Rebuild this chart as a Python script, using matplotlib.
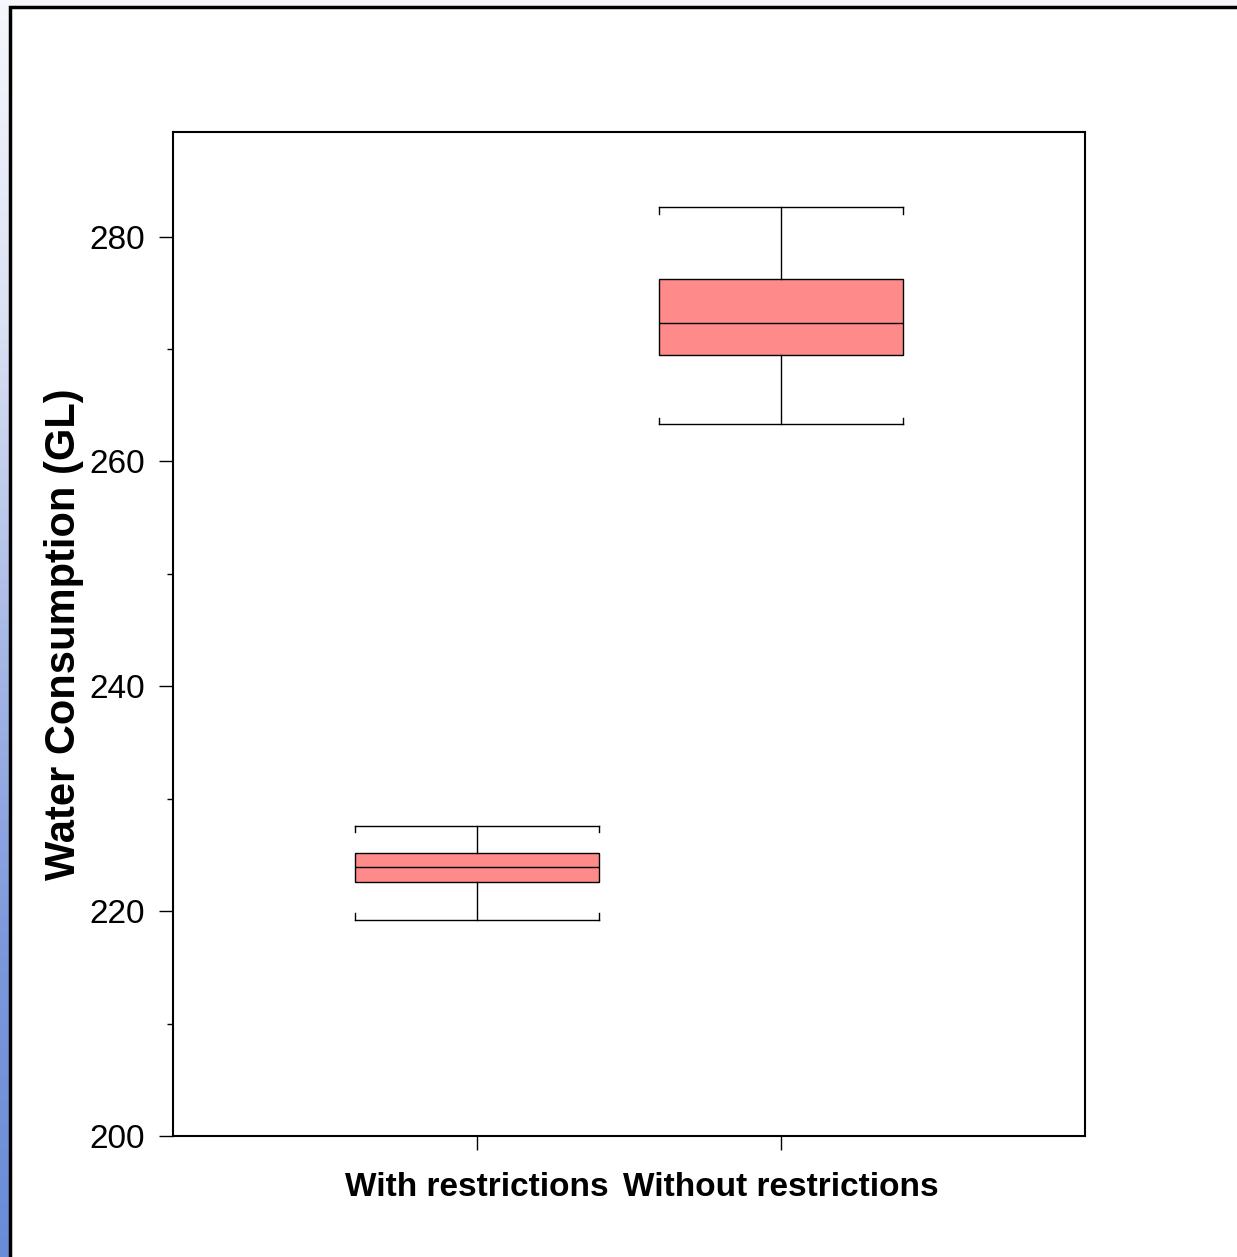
import matplotlib
matplotlib.use("Agg")
import matplotlib.pyplot as plt
import numpy as np
from matplotlib.colors import LinearSegmentedColormap
from matplotlib.patches import Rectangle

# Data
categories = ["With restrictions", "Without restrictions"]
whisker_low = [219.2, 263.3]
q1 = [222.6, 269.5]
median = [223.9, 272.3]
q3 = [225.2, 276.2]
whisker_high = [227.6, 282.6]
y_ticks = [200, 220, 240, 260, 280]
y_minor = [210, 230, 250, 270]

plt.rcParams['font.family'] = ['Liberation Sans', 'DejaVu Sans']

fig = plt.figure(figsize=(12.37, 12.57), dpi=100)

# slide-like background gradient
bg = fig.add_axes([0, 0, 1, 1], zorder=-10)
cmap = LinearSegmentedColormap.from_list(
    "bg", ["#F6F7FC", "#DCE2F4", "#A9BAE6", "#7D98DC", "#6A8CD8"])
grad = np.linspace(0, 1, 256).reshape(-1, 1)
bg.imshow(grad, aspect="auto", cmap=cmap, extent=[0, 1, 0, 1], origin="upper")
bg.set_xlim(0, 1); bg.set_ylim(0, 1)
bg.axis("off")
W, H = 1237, 1257
bg.add_patch(Rectangle((9.5 / W, -0.1), 1.2, 1 - 6.5 / H + 0.1,
                       facecolor="white", edgecolor="black", linewidth=2.5,
                       transform=bg.transAxes))

ax = fig.add_axes([173 / W, 1 - 1136 / H, (1085 - 173) / W, (1136 - 132) / H])
ax.set_facecolor("none")

stats = []
for i, c in enumerate(categories):
    stats.append(dict(label=c, whislo=whisker_low[i], q1=q1[i], med=median[i],
                      q3=q3[i], whishi=whisker_high[i], fliers=[]))
positions = np.arange(1, len(categories) + 1)
bw = 0.8
ax.bxp(stats, positions=positions, widths=bw, patch_artist=True, capwidths=bw,
       boxprops=dict(facecolor="#FF8A8A", edgecolor="black", linewidth=1),
       medianprops=dict(color="black", linewidth=1),
       whiskerprops=dict(color="black", linewidth=1),
       capprops=dict(color="black", linewidth=1), showfliers=False)
# small hooks at the cap ends
hook = 0.6
for p, lo, hi in zip(positions, whisker_low, whisker_high):
    for xe in (p - bw / 2, p + bw / 2):
        ax.plot([xe, xe], [hi, hi - hook], color="black", lw=1)
        ax.plot([xe, xe], [lo, lo + hook], color="black", lw=1)

ax.set_xlim(0, 3)
ax.set_ylim(200, 289.3)
ax.set_yticks(y_ticks)
ax.set_yticks(y_minor, minor=True)
ax.set_yticklabels([str(v) for v in y_ticks], fontsize=24, va="top")
for t in ax.get_yticklabels():
    t.set_verticalalignment("center_baseline")
ax.set_xticks(positions)
ax.set_xticklabels(categories, fontsize=24, fontweight="bold")
ax.tick_params(axis="y", which="major", length=10, width=1, pad=10, direction="out")
ax.tick_params(axis="y", which="minor", length=4, width=1, direction="out")
ax.tick_params(axis="x", which="major", length=10, width=1, pad=16, direction="out")
ax.tick_params(top=False, right=False)
for s in ax.spines.values():
    s.set_linewidth(1.5)
ax.set_ylabel("Water Consumption (GL)", fontsize=30, fontweight="bold", labelpad=4)

fig.savefig("out.png", dpi=100)
